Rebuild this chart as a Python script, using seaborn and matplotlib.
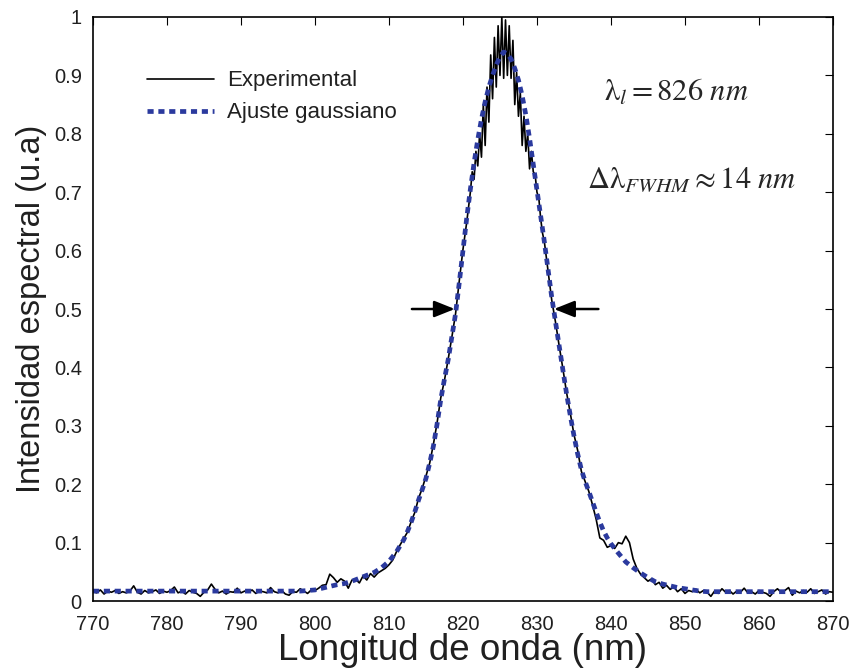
import numpy as np
import pandas as pd
import matplotlib
matplotlib.use("Agg")
import matplotlib.pyplot as plt
from matplotlib.ticker import FuncFormatter
import seaborn as sns

# ---------------- data ----------------
# Experimental spectrum, segment A: 770.0 .. 820.5 nm, step 0.5
exp_int_a = [
    0.016, 0.014, 0.019, 0.012, 0.017, 0.015, 0.018, 0.013, 0.016, 0.014,
    0.017, 0.026, 0.015, 0.012, 0.018, 0.014, 0.016, 0.019, 0.013, 0.017,
    0.015, 0.018, 0.024, 0.014, 0.017, 0.012, 0.018, 0.015, 0.013, 0.008,
    0.015, 0.019, 0.029, 0.020, 0.014, 0.017, 0.012, 0.016, 0.015, 0.022,
    0.014, 0.017, 0.015, 0.019, 0.013, 0.017, 0.016, 0.014, 0.023, 0.016,
    0.014, 0.018, 0.012, 0.010, 0.016, 0.015, 0.021, 0.017, 0.013, 0.019,
    0.018, 0.022, 0.027, 0.028, 0.046, 0.040, 0.032, 0.038, 0.034, 0.022,
    0.036, 0.037, 0.031, 0.043, 0.036, 0.047, 0.041, 0.048, 0.052, 0.056,
    0.062, 0.070, 0.084, 0.096, 0.107, 0.118, 0.136, 0.152, 0.176, 0.193,
    0.214, 0.236, 0.268, 0.305, 0.348, 0.378, 0.414, 0.452, 0.492, 0.548,
    0.602, 0.648,
]
# segment B: 821.00 .. 830.75 nm, step 0.25 (oscillating peak)
exp_int_b = [
    0.700, 0.735, 0.722, 0.770, 0.745, 0.800, 0.760, 0.850, 0.780, 0.880,
    0.820, 0.935, 0.860, 0.965, 0.880, 0.985, 0.900, 1.000, 0.895, 0.995,
    0.900, 0.985, 0.895, 0.960, 0.850, 0.905, 0.830, 0.870, 0.780, 0.830,
    0.770, 0.800, 0.740, 0.770, 0.735, 0.730, 0.700, 0.690, 0.655, 0.630,
]
# segment C: 831.0 .. 870.0 nm, step 0.5
exp_int_c = [
    0.615, 0.565, 0.515, 0.478, 0.437, 0.398, 0.357, 0.322, 0.285, 0.258,
    0.222, 0.205, 0.188, 0.165, 0.140, 0.108, 0.104, 0.092, 0.095, 0.090,
    0.100, 0.098, 0.111, 0.100, 0.072, 0.056, 0.046, 0.040, 0.034, 0.038,
    0.028, 0.032, 0.022, 0.027, 0.020, 0.024, 0.016, 0.021, 0.013, 0.018,
    0.016, 0.020, 0.014, 0.018, 0.015, 0.008, 0.017, 0.013, 0.021, 0.015,
    0.018, 0.012, 0.017, 0.015, 0.022, 0.014, 0.016, 0.012, 0.018, 0.015,
    0.013, 0.008, 0.016, 0.021, 0.015, 0.018, 0.023, 0.010, 0.017, 0.014,
    0.018, 0.015, 0.021, 0.013, 0.016, 0.019, 0.012, 0.016, 0.015,
]

# Gaussian fit
fit_int_a = [0.017] * 29 + [0.018, 0.019, 0.022, 0.025, 0.028, 0.030, 0.034,
                             0.039, 0.044, 0.049, 0.057, 0.068, 0.084]   # 770..811, step 1
fit_int_b = [
    0.105, 0.119, 0.135, 0.153, 0.173, 0.191, 0.210, 0.236, 0.265, 0.303,
    0.345, 0.380, 0.413, 0.452, 0.492, 0.545, 0.600, 0.655, 0.705, 0.750,
    0.790, 0.825, 0.855, 0.880, 0.900, 0.918, 0.932, 0.940, 0.937, 0.928,
    0.912, 0.892, 0.865, 0.832, 0.792, 0.748, 0.705, 0.660, 0.615, 0.567,
    0.520, 0.478, 0.437, 0.396, 0.355, 0.318, 0.283, 0.252, 0.225, 0.205,
    0.188, 0.170, 0.152, 0.135, 0.120, 0.108, 0.098,
]  # 812.0..840.0, step 0.5
fit_int_c = [0.082, 0.067, 0.057, 0.048, 0.040, 0.033, 0.029, 0.026, 0.023,
             0.021, 0.019, 0.017] + [0.016] * 18   # 841..870, step 1

exp_nm = np.concatenate([
    770.0 + 0.5 * np.arange(len(exp_int_a)),
    821.0 + 0.25 * np.arange(len(exp_int_b)),
    831.0 + 0.5 * np.arange(len(exp_int_c)),
])
exp_int = np.array(exp_int_a + exp_int_b + exp_int_c)
fit_nm = np.concatenate([
    770.0 + 1.0 * np.arange(len(fit_int_a)),
    812.0 + 0.5 * np.arange(len(fit_int_b)),
    841.0 + 1.0 * np.arange(len(fit_int_c)),
])
fit_int = np.array(fit_int_a + fit_int_b + fit_int_c)

x_ticks = list(range(770, 871, 10))
y_ticks = [round(0.1 * i, 1) for i in range(11)]

df_exp = pd.DataFrame({"nm": exp_nm, "I": exp_int})
df_fit = pd.DataFrame({"nm": fit_nm, "I": fit_int})

# ---------------- style ----------------
sns.set_style("white")
plt.rcParams["font.family"] = ["Liberation Sans", "DejaVu Sans"]
plt.rcParams["mathtext.fontset"] = "stix"

fig = plt.figure(figsize=(8.53, 6.69), dpi=100)
ax = fig.add_axes([0.109, 0.1016, 0.8675, 0.873])

sns.lineplot(data=df_exp, x="nm", y="I", ax=ax, color="black", linewidth=1.2,
             label="Experimental", estimator=None, sort=False)
sns.lineplot(data=df_fit, x="nm", y="I", ax=ax, color="#2B3A9E", linewidth=3.4,
             linestyle=(0, (1.3, 1.0)), label="Ajuste gaussiano",
             estimator=None, sort=False)

ax.set_xlim(770, 870)
ax.set_ylim(0, 1)
ax.set_xticks(x_ticks)
ax.set_yticks(y_ticks)
ax.yaxis.set_major_formatter(FuncFormatter(lambda v, p: f"{v:g}"))
ax.tick_params(direction="in", length=6, width=0.8, top=True, right=True,
               labelsize=14.5, colors="black", labelcolor="#202020")
ax.tick_params(axis="x", pad=10)
ax.tick_params(axis="y", pad=8)
for s in ax.spines.values():
    s.set_visible(True)
    s.set_color("black")
    s.set_linewidth(1.2)

ax.set_xlabel("Longitud de onda (nm)", fontsize=26.5, labelpad=-1, color="#202020")
ax.set_ylabel("Intensidad espectral (u.a)", fontsize=23.5, labelpad=5,
              color="#202020")

leg = ax.legend(loc="upper left", bbox_to_anchor=(0.0465, 0.943), frameon=False,
                fontsize=16, handlelength=3.0, handletextpad=0.6,
                labelspacing=0.5)
for t in leg.get_texts():
    t.set_color("#202020")

# annotations
ax.text(839.0, 0.870, r"$\mathrm{\lambda}_{l} = 826\ nm$", fontsize=22,
        va="center", ha="left")
ax.text(836.8, 0.722, r"$\Delta\mathrm{\lambda}_{FWHM} \approx 14\ nm$",
        fontsize=22, va="center", ha="left")

arrow_kw = dict(arrowstyle="-|>,head_length=1.25,head_width=0.5", color="black",
                lw=1.8, shrinkA=0, shrinkB=0)
ax.annotate("", xy=(818.9, 0.5), xytext=(813.1, 0.5), arrowprops=arrow_kw)
ax.annotate("", xy=(832.3, 0.5), xytext=(838.3, 0.5), arrowprops=arrow_kw)

fig.savefig("out.png", dpi=100)
